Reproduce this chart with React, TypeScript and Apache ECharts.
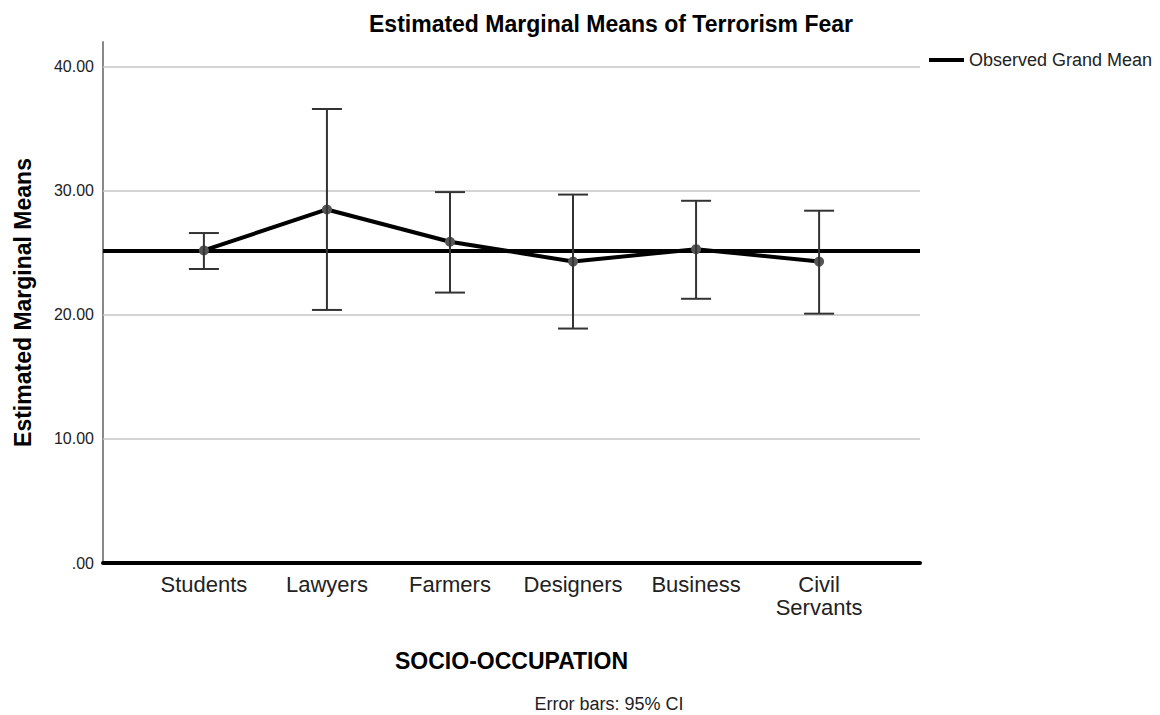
import React, { useEffect, useRef } from "react";
import * as echarts from "echarts";

const categories = ["Students", "Lawyers", "Farmers", "Designers", "Business", "Civil\nServants"];
const means = [25.2, 28.5, 25.9, 24.3, 25.3, 24.3];
const lowerCI = [23.7, 20.4, 21.8, 18.9, 21.3, 20.1];
const upperCI = [26.6, 36.6, 29.9, 29.7, 29.2, 28.4];
const grandMean = 25.16;
const yTicks = [0, 10, 20, 30, 40];
const gridTicks = [10, 20, 30, 40];

const FONT = "Liberation Sans, Arial, sans-serif";

export default function App() {
  const ref = useRef<HTMLDivElement>(null);
  useEffect(() => {
    if (!ref.current) return;
    const chart = echarts.init(ref.current, null, { renderer: "svg" });
    const xMin = -0.82;
    const xMax = 5.82;
    chart.setOption({
      animation: false,
      backgroundColor: "#ffffff",
      textStyle: { fontFamily: FONT },
      title: {
        text: "Estimated Marginal Means of Terrorism Fear",
        left: 364,
        top: 7,
        textStyle: { fontFamily: FONT, fontSize: 23, fontWeight: "bold", color: "#000" },
      },
      legend: {
        show: true,
        left: 924,
        top: 46,
        itemWidth: 35,
        itemHeight: 4,
        itemGap: 6,
        data: [{ name: "Observed Grand Mean", icon: "rect", itemStyle: { color: "#000" } }],
        textStyle: { fontFamily: FONT, fontSize: 18, color: "#222" },
      },
      grid: { left: 103, right: 240, top: 42, bottom: 152, containLabel: false, outerBoundsMode: "none" },
      xAxis: {
        type: "value",
        min: xMin,
        max: xMax,
        name: "SOCIO-OCCUPATION",
        nameLocation: "middle",
        nameGap: 86,
        nameTextStyle: { fontFamily: FONT, fontSize: 23, fontWeight: "bold", color: "#000" },
        axisLine: { show: true, lineStyle: { color: "#000", width: 4 } },
        axisTick: { show: false },
        splitLine: { show: false },
        axisLabel: {
          customValues: [0, 1, 2, 3, 4, 5],
          formatter: (v: number) => categories[Math.round(v)] ?? "",
          fontFamily: FONT,
          fontSize: 22,
          lineHeight: 23,
          color: "#222",
          margin: 10,
          verticalAlign: "top",
        },
      },
      yAxis: {
        type: "value",
        min: 0,
        max: 42,
        name: "Estimated Marginal Means",
        nameLocation: "middle",
        nameGap: 69,
        nameRotate: 90,
        nameTextStyle: { fontFamily: FONT, fontSize: 23, fontWeight: "bold", color: "#000" },
        axisLine: { show: true, onZero: false, lineStyle: { color: "#888", width: 2 } },
        axisTick: { show: false },
        splitLine: { show: false },
        axisLabel: {
          customValues: yTicks,
          formatter: (v: number) => (v === 0 ? ".00" : v.toFixed(2)),
          fontFamily: FONT,
          fontSize: 16,
          color: "#222",
          margin: 9,
        },
      },
      series: [
        {
          name: "gridlines",
          type: "line",
          data: [],
          silent: true,
          markLine: {
            silent: true,
            symbol: "none",
            label: { show: false },
            lineStyle: { color: "#c6c6c6", width: 1.5, type: "solid" },
            data: gridTicks.map((t) => ({ yAxis: t })),
          },
        },
        {
          name: "Observed Grand Mean",
          type: "line",
          data: [
            [xMin, grandMean],
            [xMax, grandMean],
          ],
          symbol: "none",
          lineStyle: { color: "#000", width: 4 },
          itemStyle: { color: "#000" },
          z: 3,
        },
        {
          name: "means",
          type: "line",
          data: means.map((m, i) => [i, m]),
          symbol: "circle",
          symbolSize: 10,
          showSymbol: true,
          lineStyle: { color: "#000", width: 4 },
          itemStyle: { color: "#555" },
          z: 4,
        },
        {
          name: "errorbars",
          type: "custom",
          data: lowerCI.map((lo, i) => [i, lo, upperCI[i]]),
          encode: { x: 0, y: [1, 2] },
          z: 5,
          renderItem: (params: any, api: any) => {
            const x = api.value(0);
            const lo = api.coord([x, api.value(1)]);
            const hi = api.coord([x, api.value(2)]);
            const hw = 15;
            const style = { stroke: "#333", lineWidth: 2 };
            return {
              type: "group",
              children: [
                { type: "line", shape: { x1: lo[0], y1: lo[1], x2: hi[0], y2: hi[1] }, style },
                { type: "line", shape: { x1: lo[0] - hw, y1: lo[1], x2: lo[0] + hw, y2: lo[1] }, style },
                { type: "line", shape: { x1: hi[0] - hw, y1: hi[1], x2: hi[0] + hw, y2: hi[1] }, style },
              ],
            };
          },
        },
      ],
      graphic: [
        {
          type: "text",
          x: 609,
          y: 704,
          style: {
            text: "Error bars: 95% CI",
            fontFamily: FONT,
            fontSize: 18,
            fill: "#222",
            align: "center",
            verticalAlign: "middle",
          },
        },
      ],
    });
    return () => chart.dispose();
  }, []);
  return (
    <div
      ref={ref}
      style={{ position: "fixed", left: 0, top: 0, width: 1160, height: 715, background: "#fff" }}
    />
  );
}
